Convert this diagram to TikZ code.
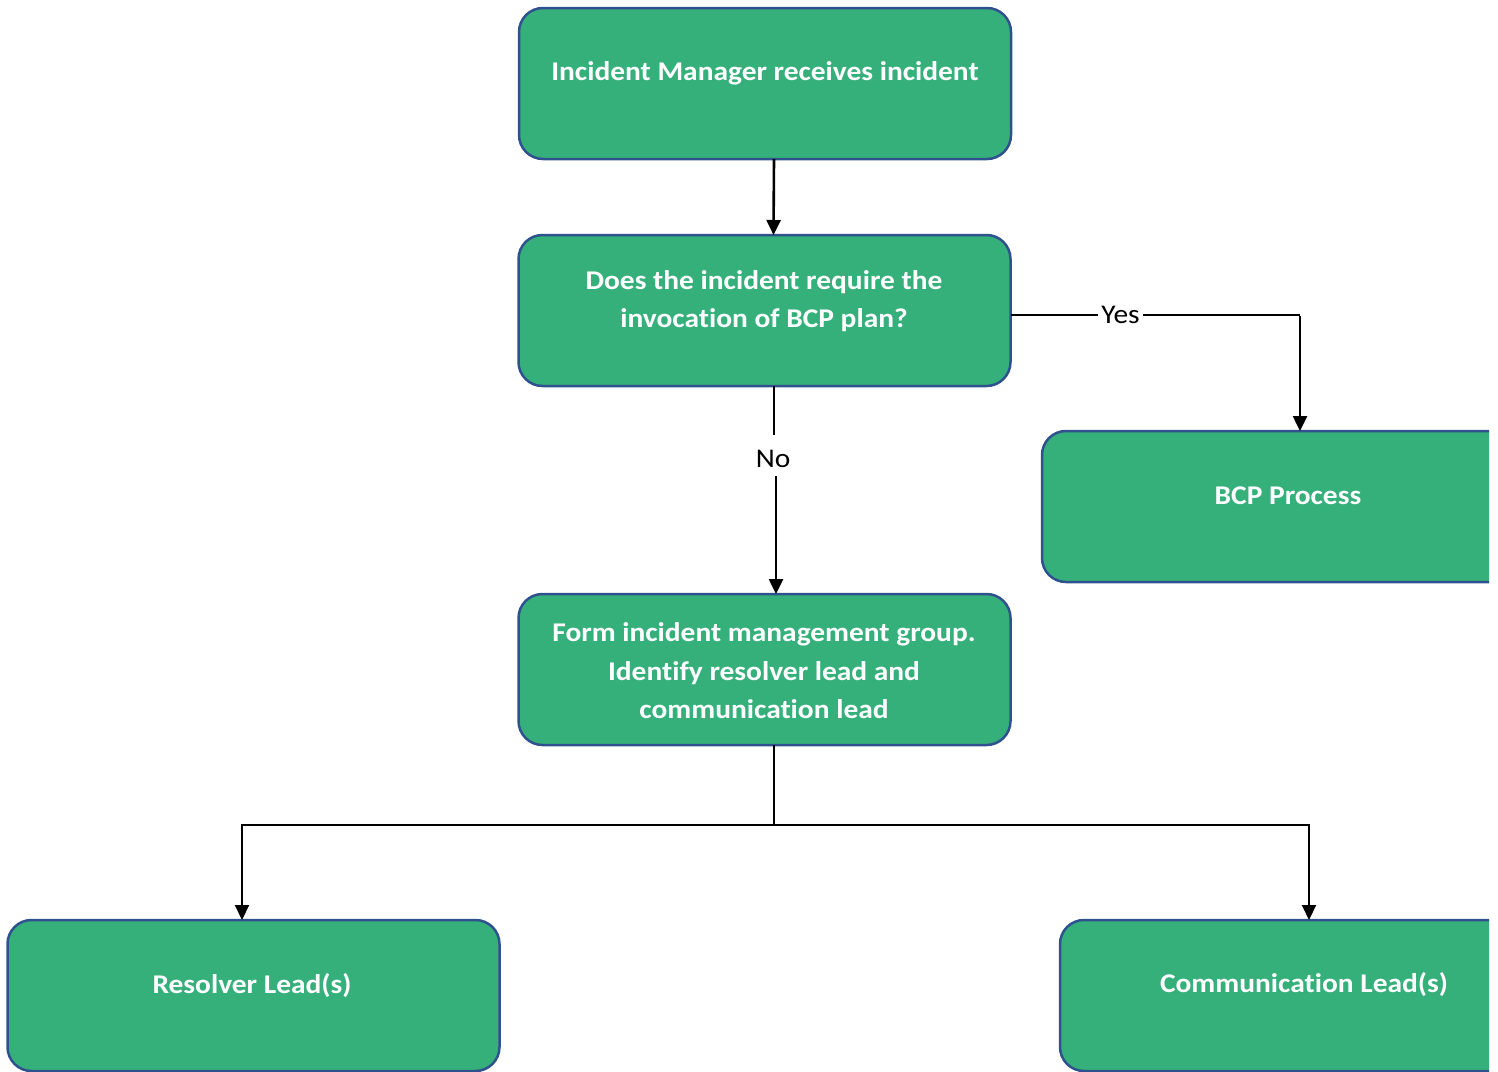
\documentclass[tikz,border=0pt]{standalone}
\usepackage{fontspec}
\setmainfont{Carlito}[FakeStretch=1.09, Ligatures=CommonOff]
\usetikzlibrary{arrows.meta}
\definecolor{boxgreen}{RGB}{54,176,123}
\definecolor{boxedge}{RGB}{47,82,143}
\begin{document}
\begin{tikzpicture}[x=1pt,y=-1pt,
  box/.style={draw=boxedge, line width=2.5pt, fill=boxgreen, rounded corners=24pt,
    minimum width=492pt, minimum height=151pt, inner sep=0pt, outer sep=0pt},
  boxtext/.style={text=white, font=\fontsize{27}{38.5}\selectfont\bfseries, align=center, inner sep=0pt},
  thick link/.style={line width=2.6pt, -{Triangle[width=14pt,length=15pt]}},
  thin link/.style={line width=1.2pt},
  answer/.style={font=\fontsize{27}{30}\selectfont, fill=white, inner sep=3pt}]

\useasboundingbox (0,0) rectangle (1498,1071);

% process boxes (the right-hand and lower ones run off the page edge)
\begin{scope}
  \clip (0,0) rectangle (1489,1071.5);
  \node[box] (b1) at (765,83.5) {};
  \node[box] (b2) at (764.5,310.5) {};
  \node[box] (b3) at (1288,506.5) {};
  \node[box] (b4) at (764.5,669.5) {};
  \node[box] (b5) at (253.5,995.5) {};
  \node[box] (b6) at (1306,995.5) {};
\end{scope}

% box texts
\node[boxtext] (t1) at (765,73) {Incident Manager receives incident};
\node[boxtext] (t2) at (764,301) {Does the incident require the\\invocation of BCP plan?};
\node[boxtext] (t3) at (1288,496) {BCP Process};
\node[boxtext] (t4) at (764,671) {Form incident management group.\\Identify resolver lead and\\communication lead};
\node[boxtext] (t5) at (252,986) {Resolver Lead(s)};
\node[boxtext] (t6) at (1304,985) {Communication Lead(s)};

% receive -> decision
\draw[thick link] ([xshift=9pt]b1.south) -- ([xshift=9pt]b2.north);

% decision: yes branch
\coordinate (yesturn) at (1300,315);
\draw[thin link] (yesturn -| b2.east) -- node[answer, pos=0.38] (yes) {Yes} (yesturn);
\draw[thick link] ([yshift=-0.6pt]yesturn) -- (yesturn |- b3.north);

% decision: no branch
\node[answer, fill=none] (no) at (773,459) {No};
\draw[thin link] ([xshift=9.5pt]b2.south) -- ([xshift=9.5pt]b2.south |- 0,435);
\draw[thick link] (776,476) -- (776,0 |- b4.north);

% split to the two leads
\coordinate (split) at (774,825);
\coordinate (lefttop) at (242,825);
\coordinate (righttop) at (1309,825);
\draw[thin link] ([xshift=9.5pt]b4.south) -- (split);
\draw[line width=2pt, {Triangle[width=14pt,length=15pt]}-{Triangle[width=14pt,length=15pt]}]
  (lefttop |- b5.north) -- (lefttop) -- (righttop) -- (righttop |- b6.north);
\end{tikzpicture}
\end{document}
